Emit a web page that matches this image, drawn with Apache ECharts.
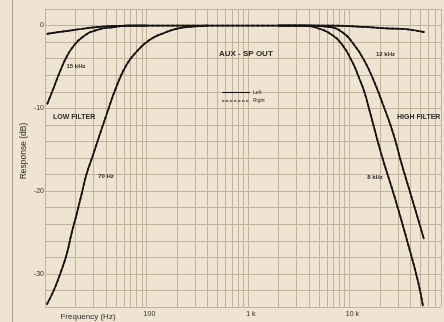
<!DOCTYPE html>
<html>
<head>
<meta charset="utf-8">
<script src="https://cdn.jsdelivr.net/npm/echarts@6/dist/echarts.min.js"></script>
<style>
  html, body { margin: 0; padding: 0; background: #efe4d2; }
  #chart { width: 444px; height: 322px; }
</style>
</head>
<body>
<div id="chart"></div>
<script>
// ---- data ----
const yTickLabels = [0, -10, -20, -30];
const xTickLabels = { 100: '100', 1000: '1 k', 10000: '10 k' };
const gridFreqs = [20, 30, 40, 50, 60, 70, 80, 90,
  200, 300, 400, 500, 600, 700, 800, 900,
  2000, 3000, 4000, 5000, 6000, 7000, 8000, 9000,
  20000, 30000, 40000, 50000, 60000, 70000, 80000];
const legendNames = ['Left', 'Right'];

// flat response (no filter)
const flatFreq = [10.4, 19, 32, 50, 100, 1000, 6500, 15400, 23600, 32600, 37000, 55000];
const flatDb   = [-1.0, -0.55, -0.2, -0.05, 0, 0, 0, -0.2, -0.35, -0.4, -0.45, -0.8];

// 15 Hz low-cut curve
const low15Freq = [10.5, 12.1, 14.0, 16.3, 18.9, 23.7, 32.1, 50.5, 63.6, 100];
const low15Db   = [-9.5, -7.6, -5.6, -3.8, -2.55, -1.35, -0.55, -0.15, 0, 0];

// 70 Hz low filter curve
const low70Freq = [10.4, 12.1, 14.0, 16.3, 18.2, 20.5, 22.9, 25.6, 29.8, 34.6, 40.3, 50.5, 63.3, 79.3, 107, 145, 196, 264, 400];
const low70Db   = [-33.7, -32.1, -30.1, -27.7, -25.2, -22.8, -20.4, -18.0, -15.6, -13.2, -10.8, -7.4, -4.8, -3.2, -1.75, -0.95, -0.4, -0.15, 0];

// 12 kHz high filter curve
const high12Freq = [2000, 4150, 6520, 8730, 10940, 13700, 17180, 21530, 26990, 32560, 44060, 54330];
const high12Db   = [0, 0, -0.2, -0.9, -2.2, -4.0, -6.5, -9.6, -13.0, -16.6, -22.0, -25.8];

// 8 kHz high filter curve
const high8Freq = [2000, 3540, 4970, 6810, 8530, 10690, 12530, 14030, 16070, 20730, 28060, 37880, 47450, 53110];
const high8Db   = [0, 0, -0.35, -1.15, -2.35, -4.4, -6.4, -8.0, -10.6, -15.6, -20.8, -26.4, -30.9, -33.9];

// ---- chart ----
const pairs = (f, d) => f.map((v, i) => [v, d[i]]);
const curves = [
  pairs(flatFreq, flatDb),
  pairs(low15Freq, low15Db),
  pairs(low70Freq, low70Db),
  pairs(high12Freq, high12Db),
  pairs(high8Freq, high8Db)
];

const FONT = '"Liberation Sans", Arial, sans-serif';
const INK = '#2e2a27';
const GRID = '#c2b29b';
const LINE = '#161514';

const series = [];
series.push({
  type: 'line', name: '_grid', data: [], silent: true, z: 1,
  markLine: {
    silent: true, symbol: ['none', 'none'], animation: false,
    label: { show: false },
    lineStyle: { color: GRID, width: 1, type: 'solid' },
    emphasis: { disabled: true },
    data: gridFreqs.map(v => ({ xAxis: v }))
  }
});
curves.forEach(c => {
  series.push({
    type: 'line', name: legendNames[0], data: c, symbol: 'none', smooth: 0.5,
    lineStyle: { color: LINE, width: 1.7 }, itemStyle: { color: LINE },
    z: 5, animation: false, silent: true
  });
});
curves.forEach(c => {
  series.push({
    type: 'line', name: legendNames[1], data: c, symbol: 'none', smooth: 0.5,
    lineStyle: { color: LINE, width: 1.7, type: [3, 2] }, itemStyle: { color: LINE },
    z: 6, animation: false, silent: true
  });
});

const txt = (x, y, text, size, weight, align, extra) => Object.assign({
  type: 'text', x: x, y: y, silent: true, z: 100,
  style: { text: text, fontSize: size, fontWeight: weight, fontFamily: FONT, fill: INK, align: align, verticalAlign: 'middle' }
}, extra || {});

const chart = echarts.init(document.getElementById('chart'), null, { renderer: 'canvas' });
chart.setOption({
  backgroundColor: '#efe4d2',
  animation: false,
  textStyle: { fontFamily: FONT },
  grid: { left: 45, top: 9, width: 398, height: 298 },
  xAxis: {
    type: 'log', logBase: 10, min: 10, max: 80000,
    axisLine: { show: true, lineStyle: { color: GRID, width: 1 } },
    axisTick: { show: false },
    splitLine: { show: true, lineStyle: { color: GRID, width: 1 } },
    axisLabel: {
      color: INK, fontSize: 7, margin: 4, padding: [0, 0, 0, 6],
      formatter: v => xTickLabels[Math.round(v)] || ''
    }
  },
  yAxis: {
    type: 'value', min: -34, max: 2, interval: 2,
    axisLine: { show: true, lineStyle: { color: GRID, width: 1 } },
    axisTick: { show: false },
    splitLine: { show: true, lineStyle: { color: GRID, width: 1 } },
    axisLabel: {
      color: INK, fontSize: 7, margin: 1,
      formatter: v => yTickLabels.indexOf(v) >= 0 ? String(v) : ''
    }
  },
  graphic: [
    { type: 'line', z: 100, shape: { x1: 12.5, y1: 0, x2: 12.5, y2: 322 }, style: { stroke: '#a89884', lineWidth: 1 }, silent: true },
    txt(24, 151, 'Response (dB)', 8.5, 'normal', 'center', { rotation: Math.PI / 2 }),
    txt(88, 317, 'Frequency (Hz)', 8, 'normal', 'center'),
    txt(76, 66.5, '15 kHz', 6, 'bold', 'center'),
    txt(53, 117, 'LOW FILTER', 7, 'bold', 'left'),
    txt(106, 176, '70 Hz', 6, 'bold', 'center'),
    txt(219, 53.5, 'AUX - SP OUT', 8, 'bold', 'left'),
    txt(385.5, 54.5, '12 kHz', 6, 'bold', 'center'),
    txt(397, 117.5, 'HIGH FILTER', 7, 'bold', 'left'),
    txt(375, 177.5, '8 kHz', 6, 'bold', 'center'),
    // legend
    { type: 'line', z: 100, silent: true, shape: { x1: 222, y1: 92.5, x2: 250, y2: 92.5 }, style: { stroke: LINE, lineWidth: 1.1 } },
    { type: 'line', z: 100, silent: true, shape: { x1: 222, y1: 101, x2: 250, y2: 101 }, style: { stroke: LINE, lineWidth: 1.1, lineDash: [2.5, 1.5] } },
    txt(253, 92.5, legendNames[0], 5, 'normal', 'left'),
    txt(253, 101, legendNames[1], 5, 'normal', 'left')
  ],
  series: series
});
</script>
</body>
</html>
